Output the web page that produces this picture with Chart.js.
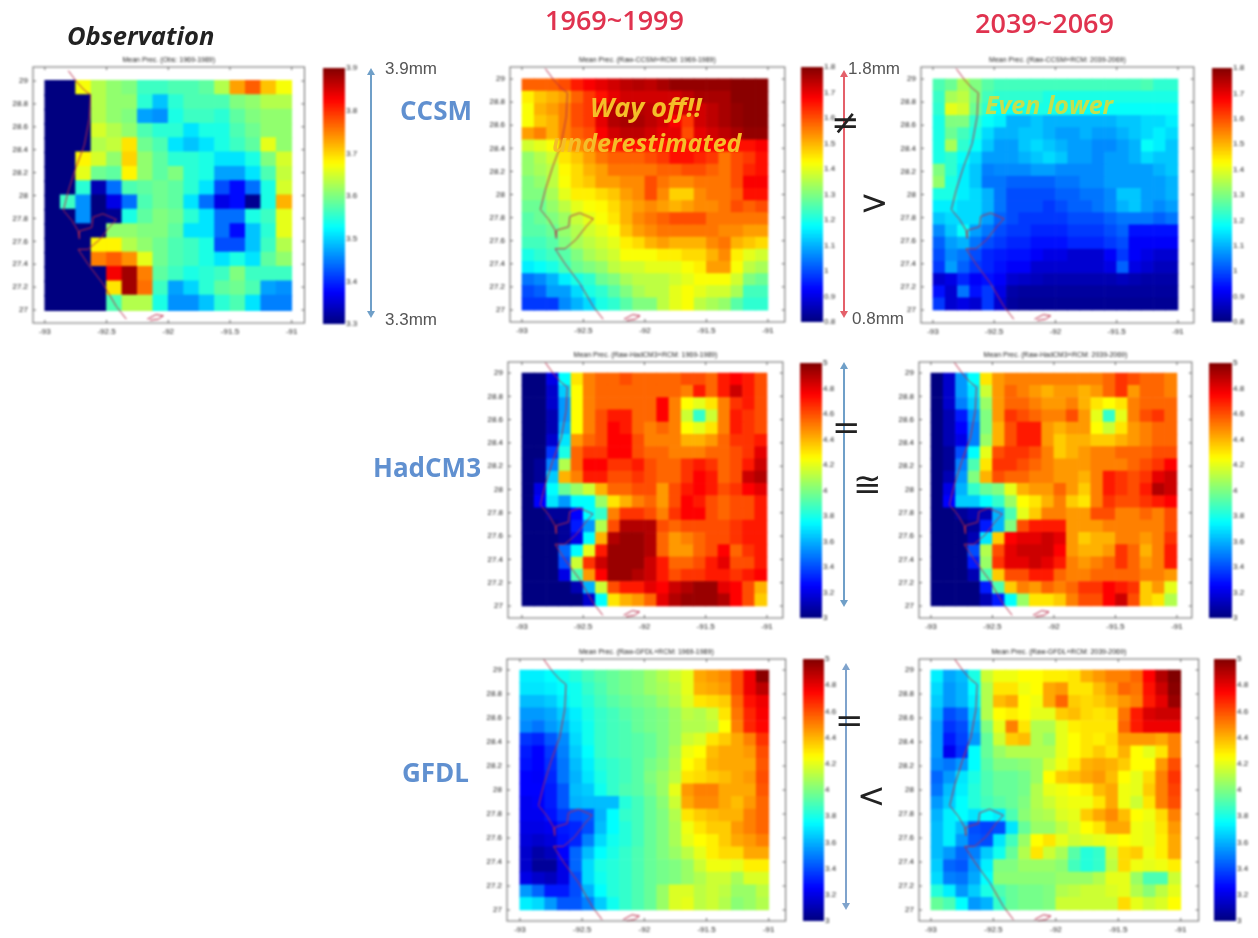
<!DOCTYPE html>
<html>
<head>
<meta charset="utf-8">
<title>Mean precipitation maps</title>
<script src="https://cdn.jsdelivr.net/npm/chart.js@4/dist/chart.umd.min.js"></script>
<style>
html, body { margin: 0; padding: 0; background: #fff; }
#page { position: relative; width: 1258px; height: 938px; overflow: hidden; }
canvas { position: absolute; filter: blur(0.8px); }
svg { position: absolute; left: 0; top: 0; }
.note { position: absolute; white-space: nowrap; font-family: "Open Sans", sans-serif; filter: blur(0.4px); }
.head { font-size: 25.5px; font-weight: 700; font-style: italic; color: #222; }
.period { font-size: 27px; font-weight: 600; color: #e0334f; }
.model { font-size: 26px; font-weight: 700; color: #6090d0; }
.mm { font-size: 17px; color: #555; font-family: "Liberation Sans", sans-serif; }
.sign { font-size: 34px; color: #222; font-family: "DejaVu Sans", sans-serif; }
.remark { font-size: 25px; font-weight: 700; font-style: italic; color: #f5be28; }
.remarkLarge { font-size: 27px; font-weight: 700; font-style: italic; color: #f5be28; }
.remarkPale { font-size: 25px; font-weight: 700; font-style: italic; color: #c4e04e; }
</style>
</head>
<body>
<div id="page"></div>
<script>
// tick labels
var lonTicks = [-93, -92.5, -92, -91.5, -91];
var latTicks = [27, 27.2, 27.4, 27.6, 27.8, 28, 28.2, 28.4, 28.6, 28.8, 29];
var obsBarTicks = [3.3, 3.4, 3.5, 3.6, 3.7, 3.8, 3.9];
var ccsmBarTicks = [0.8, 0.9, 1, 1.1, 1.2, 1.3, 1.4, 1.5, 1.6, 1.7, 1.8];
var modelBarTicks = [3, 3.2, 3.4, 3.6, 3.8, 4, 4.2, 4.4, 4.6, 4.8, 5];

// coastline, lon / lat
var coastLon = [-92.81,-92.74,-92.68,-92.63,-92.64,-92.68,-92.75,-92.81,-92.85,-92.78,-92.73,-92.72,-92.72,-92.62,-92.61,-92.53,-92.42,-92.48,-92.56,-92.65,-92.73,-92.65,-92.53,-92.42,-92.34];
var coastLat = [29.09,28.99,28.92,28.88,28.67,28.44,28.24,28.04,27.87,27.78,27.69,27.62,27.69,27.72,27.81,27.84,27.79,27.72,27.61,27.53,27.53,27.40,27.23,27.03,26.92];
var islandLon = [-92.17,-92.10,-92.04,-92.08,-92.15];
var islandLat = [26.92,26.96,26.95,26.92,26.91];

// mean precipitation, rows run north to south
var obsValues = [
[3.3,3.3,3.67,3.63,3.61,3.6,3.56,3.56,3.57,3.57,3.58,3.63,3.73,3.77,3.71,3.67],
[3.3,3.3,3.3,3.63,3.61,3.61,3.55,3.49,3.55,3.57,3.57,3.57,3.6,3.61,3.63,3.63],
[3.3,3.3,3.3,3.63,3.61,3.6,3.47,3.46,3.54,3.56,3.56,3.55,3.58,3.6,3.61,3.61],
[3.3,3.3,3.3,3.65,3.63,3.61,3.57,3.55,3.55,3.51,3.54,3.54,3.57,3.59,3.61,3.61],
[3.3,3.3,3.3,3.63,3.64,3.69,3.59,3.57,3.51,3.49,3.51,3.54,3.56,3.58,3.66,3.61],
[3.3,3.3,3.68,3.65,3.61,3.7,3.61,3.58,3.55,3.55,3.54,3.51,3.51,3.54,3.6,3.65],
[3.3,3.3,3.66,3.59,3.58,3.68,3.61,3.58,3.6,3.55,3.54,3.47,3.47,3.51,3.57,3.64],
[3.3,3.3,3.55,3.33,3.44,3.57,3.58,3.59,3.58,3.55,3.51,3.42,3.38,3.44,3.54,3.65],
[3.3,3.56,3.46,3.3,3.36,3.44,3.57,3.59,3.58,3.51,3.44,3.36,3.38,3.31,3.54,3.72],
[3.3,3.3,3.46,3.3,3.31,3.54,3.58,3.6,3.59,3.55,3.51,3.44,3.44,3.54,3.56,3.66],
[3.3,3.3,3.3,3.3,3.61,3.61,3.6,3.6,3.58,3.51,3.51,3.44,3.38,3.49,3.55,3.66],
[3.3,3.3,3.3,3.68,3.68,3.63,3.61,3.59,3.57,3.56,3.54,3.42,3.42,3.49,3.56,3.63],
[3.3,3.3,3.3,3.75,3.77,3.74,3.66,3.59,3.57,3.56,3.54,3.51,3.54,3.51,3.58,3.61],
[3.3,3.3,3.3,3.3,3.83,3.88,3.75,3.58,3.56,3.54,3.55,3.56,3.6,3.56,3.56,3.56],
[3.3,3.3,3.3,3.3,3.69,3.88,3.76,3.56,3.47,3.5,3.55,3.58,3.59,3.57,3.47,3.46],
[3.3,3.3,3.3,3.3,3.57,3.63,3.63,3.54,3.46,3.46,3.49,3.55,3.57,3.51,3.45,3.45]
];
var ccsmHist = [
[1.58,1.58,1.58,1.6,1.65,1.68,1.7,1.72,1.74,1.75,1.74,1.76,1.78,1.78,1.78,1.78,1.78,1.79,1.79,1.79],
[1.44,1.48,1.5,1.52,1.58,1.62,1.66,1.7,1.72,1.72,1.72,1.72,1.72,1.74,1.76,1.76,1.76,1.79,1.79,1.79],
[1.42,1.5,1.52,1.55,1.6,1.62,1.72,1.75,1.75,1.75,1.74,1.72,1.72,1.72,1.72,1.74,1.76,1.78,1.79,1.79],
[1.42,1.48,1.5,1.55,1.6,1.62,1.7,1.75,1.76,1.76,1.74,1.72,1.68,1.62,1.72,1.74,1.76,1.78,1.79,1.79],
[1.52,1.55,1.5,1.55,1.58,1.6,1.68,1.72,1.74,1.74,1.72,1.7,1.7,1.6,1.7,1.72,1.74,1.76,1.78,1.78],
[1.38,1.4,1.42,1.48,1.54,1.56,1.6,1.64,1.66,1.66,1.66,1.66,1.66,1.66,1.68,1.68,1.68,1.66,1.66,1.68],
[1.32,1.35,1.38,1.45,1.48,1.52,1.56,1.58,1.58,1.58,1.6,1.62,1.66,1.66,1.64,1.62,1.56,1.6,1.62,1.66],
[1.32,1.34,1.36,1.43,1.46,1.5,1.52,1.56,1.56,1.56,1.56,1.58,1.58,1.6,1.6,1.58,1.56,1.6,1.64,1.66],
[1.3,1.32,1.36,1.42,1.46,1.48,1.52,1.52,1.54,1.54,1.6,1.56,1.54,1.54,1.56,1.56,1.56,1.6,1.68,1.68],
[1.3,1.3,1.34,1.4,1.44,1.44,1.46,1.48,1.52,1.54,1.6,1.54,1.47,1.47,1.54,1.56,1.56,1.58,1.66,1.66],
[1.28,1.28,1.32,1.36,1.4,1.42,1.43,1.46,1.5,1.52,1.54,1.52,1.5,1.52,1.54,1.54,1.56,1.6,1.58,1.6],
[1.26,1.28,1.3,1.33,1.37,1.4,1.42,1.45,1.5,1.54,1.56,1.58,1.6,1.6,1.6,1.56,1.56,1.56,1.56,1.56],
[1.26,1.26,1.28,1.32,1.35,1.38,1.4,1.42,1.48,1.52,1.54,1.56,1.56,1.56,1.56,1.56,1.54,1.54,1.52,1.52],
[1.24,1.24,1.26,1.3,1.34,1.36,1.38,1.4,1.44,1.46,1.5,1.52,1.5,1.5,1.5,1.54,1.56,1.5,1.48,1.46],
[1.2,1.22,1.24,1.26,1.3,1.34,1.36,1.38,1.42,1.42,1.42,1.44,1.44,1.46,1.46,1.5,1.54,1.44,1.4,1.38],
[1.16,1.18,1.2,1.24,1.28,1.3,1.32,1.36,1.38,1.38,1.4,1.4,1.4,1.42,1.44,1.52,1.52,1.42,1.36,1.34],
[1.04,1.06,1.1,1.16,1.2,1.22,1.28,1.3,1.34,1.36,1.36,1.36,1.38,1.4,1.42,1.42,1.42,1.38,1.3,1.28],
[1.0,1.02,1.08,1.08,1.14,1.2,1.22,1.26,1.3,1.34,1.36,1.36,1.4,1.42,1.4,1.38,1.38,1.34,1.24,1.24],
[0.98,0.98,0.98,1.06,1.1,1.14,1.2,1.22,1.26,1.3,1.3,1.36,1.4,1.42,1.36,1.34,1.32,1.26,1.22,1.22]
];
var ccsmFuture = [
[1.25,1.28,1.34,1.3,1.26,1.24,1.24,1.24,1.24,1.24,1.24,1.24,1.24,1.24,1.24,1.24,1.24,1.25,1.22,1.22],
[1.23,1.34,1.36,1.3,1.24,1.22,1.22,1.22,1.22,1.2,1.2,1.2,1.2,1.2,1.2,1.2,1.2,1.2,1.2,1.2],
[1.22,1.4,1.38,1.28,1.22,1.18,1.18,1.2,1.2,1.2,1.2,1.2,1.18,1.18,1.18,1.18,1.18,1.18,1.18,1.18],
[1.2,1.3,1.3,1.22,1.18,1.16,1.1,1.1,1.12,1.1,1.1,1.1,1.1,1.1,1.1,1.12,1.12,1.14,1.14,1.16],
[1.2,1.28,1.24,1.2,1.14,1.1,1.1,1.12,1.12,1.1,1.08,1.08,1.1,1.08,1.08,1.1,1.12,1.14,1.16,1.14],
[1.2,1.34,1.22,1.18,1.12,1.08,1.08,1.12,1.14,1.12,1.1,1.08,1.08,1.06,1.06,1.08,1.1,1.18,1.16,1.12],
[1.2,1.22,1.18,1.14,1.08,1.08,1.08,1.1,1.12,1.14,1.12,1.08,1.08,1.06,1.08,1.08,1.1,1.14,1.12,1.12],
[1.3,1.22,1.16,1.12,1.05,1.06,1.06,1.06,1.08,1.08,1.06,1.06,1.06,1.06,1.08,1.08,1.08,1.08,1.1,1.12],
[1.32,1.2,1.16,1.12,1.04,1.04,1.02,1.02,1.02,1.02,1.04,1.04,1.06,1.06,1.08,1.08,1.08,1.08,1.08,1.1],
[1.2,1.2,1.16,1.14,1.1,1.04,1.0,1.0,1.0,1.0,1.02,1.02,1.04,1.04,1.06,1.12,1.12,1.08,1.08,1.1],
[1.16,1.16,1.14,1.14,1.1,1.04,1.0,1.0,1.0,0.98,1.0,1.02,1.02,1.04,1.06,1.1,1.12,1.08,1.06,1.08],
[1.12,1.14,1.14,1.14,1.08,1.02,1.0,0.98,0.98,0.98,0.98,1.0,1.0,1.0,1.02,1.04,1.04,1.04,1.02,1.04],
[1.06,1.12,1.18,1.08,1.04,1.0,0.98,0.98,0.96,0.96,0.96,0.98,0.98,0.98,1.0,1.02,0.94,0.94,0.94,0.94],
[1.02,1.08,1.1,1.04,1.0,0.98,0.96,0.96,0.94,0.94,0.94,0.96,0.96,0.96,0.98,1.0,0.92,0.92,0.92,0.92],
[1.0,1.06,1.04,1.0,0.96,0.95,0.94,0.94,0.92,0.9,0.9,0.88,0.88,0.88,0.92,0.98,0.92,0.9,0.88,0.88],
[0.98,1.08,1.02,0.98,0.96,0.94,0.92,0.92,0.88,0.88,0.88,0.88,0.88,0.88,0.9,1.02,0.9,0.88,0.86,0.86],
[0.88,0.9,0.96,0.92,0.94,0.92,0.88,0.87,0.86,0.85,0.85,0.85,0.85,0.85,0.85,0.86,0.85,0.84,0.84,0.84],
[0.94,0.88,1.04,0.94,0.98,0.9,0.84,0.83,0.83,0.83,0.83,0.83,0.83,0.83,0.83,0.83,0.83,0.83,0.83,0.83],
[0.98,0.88,0.9,0.88,0.98,0.88,0.83,0.82,0.82,0.82,0.82,0.82,0.82,0.82,0.82,0.82,0.82,0.82,0.82,0.82]
];
var hadHist = [
[3,3,3.2,3.75,4.3,4.5,4.55,4.55,4.6,4.55,4.55,4.55,4.55,4.6,4.6,4.55,4.7,4.75,4.7,4.6],
[3,3,3.15,3.65,4.25,4.5,4.55,4.55,4.55,4.55,4.55,4.55,4.55,4.5,4.7,4.55,4.7,4.85,4.7,4.6],
[3,3,3.15,3.55,4.25,4.5,4.55,4.55,4.55,4.55,4.55,4.75,4.5,4.25,4.2,4.3,4.5,4.65,4.7,4.6],
[3,3,3.1,3.55,4.25,4.5,4.6,4.7,4.7,4.55,4.55,4.75,4.5,4.15,3.85,4.15,4.5,4.7,4.65,4.6],
[3,3,3.1,3.6,4.25,4.5,4.6,4.75,4.7,4.55,4.5,4.55,4.5,4.25,4.2,4.3,4.5,4.7,4.65,4.6],
[3,3,3.15,3.7,4.45,4.55,4.6,4.75,4.75,4.6,4.5,4.5,4.5,4.4,4.4,4.45,4.55,4.65,4.65,4.7],
[3,3,3.35,3.8,4.55,4.65,4.65,4.75,4.75,4.6,4.55,4.55,4.5,4.5,4.5,4.55,4.55,4.6,4.65,4.8],
[3,3.05,3.5,4.1,4.55,4.75,4.75,4.65,4.65,4.7,4.6,4.55,4.55,4.65,4.7,4.65,4.55,4.6,4.7,4.85],
[3,3.05,3.65,4.4,4.5,4.7,4.7,4.6,4.6,4.65,4.6,4.55,4.55,4.65,4.75,4.7,4.55,4.6,4.85,4.9],
[3,3.2,3.75,3.95,4.05,4.15,4.4,4.55,4.55,4.6,4.6,4.45,4.6,4.7,4.75,4.7,4.6,4.65,4.75,4.8],
[3,3.25,3.7,3.55,3.75,3.75,4.05,4.3,4.4,4.5,4.55,4.45,4.6,4.75,4.7,4.6,4.55,4.6,4.6,4.7],
[3,3,3.05,3.05,3.25,3.75,3.85,4.5,4.65,4.65,4.6,4.5,4.65,4.75,4.75,4.6,4.55,4.6,4.6,4.7],
[3,3,3,3.05,3.3,3.55,4.1,4.6,4.9,4.9,4.9,4.6,4.55,4.6,4.6,4.6,4.6,4.65,4.7,4.7],
[3,3,3,3.05,3.2,3.75,4.4,4.9,4.95,4.95,4.9,4.55,4.45,4.5,4.55,4.6,4.6,4.65,4.7,4.7],
[3,3,3,3.45,3.75,4.2,4.7,4.95,4.95,4.95,4.9,4.55,4.45,4.45,4.55,4.6,4.75,4.55,4.65,4.7],
[3,3,3,3.4,4.15,4.65,4.85,4.95,4.95,4.95,4.85,4.7,4.55,4.55,4.6,4.7,4.8,4.6,4.6,4.7],
[3,3,3,3.2,3.9,4.45,4.75,4.95,4.95,4.9,4.85,4.7,4.6,4.65,4.65,4.7,4.7,4.65,4.7,4.75],
[3,3,3,3,3.1,3.6,4.15,4.6,4.7,4.7,4.8,4.75,4.85,4.9,4.95,4.95,4.8,4.75,4.6,4.4],
[3,3,3,3,3,3.15,3.75,4.3,4.4,4.45,4.55,4.8,4.9,4.95,4.95,4.95,4.9,4.75,4.6,4.35]
];
var hadFuture = [
[3,3.15,3.55,3.75,4.3,4.45,4.5,4.5,4.5,4.5,4.5,4.5,4.5,4.5,4.55,4.65,4.6,4.55,4.55,4.5],
[3,3.15,3.55,3.7,4.15,4.45,4.55,4.5,4.45,4.4,4.45,4.45,4.4,4.45,4.55,4.65,4.45,4.55,4.55,4.5],
[3,3.15,3.5,3.65,4.05,4.45,4.55,4.55,4.5,4.45,4.45,4.5,4.4,4.3,4.25,4.3,4.5,4.55,4.55,4.55],
[3,3.1,3.3,3.55,4.0,4.45,4.65,4.6,4.55,4.5,4.5,4.6,4.45,4.2,3.85,4.2,4.5,4.6,4.65,4.55],
[3,3.1,3.25,3.5,4.0,4.4,4.6,4.7,4.7,4.45,4.4,4.45,4.45,4.25,4.15,4.3,4.45,4.5,4.55,4.55],
[3,3.1,3.2,3.5,4.05,4.4,4.6,4.7,4.7,4.45,4.35,4.4,4.4,4.35,4.35,4.4,4.45,4.5,4.55,4.55],
[3,3.05,3.4,3.75,4.2,4.6,4.65,4.65,4.6,4.5,4.35,4.4,4.45,4.5,4.5,4.55,4.55,4.55,4.6,4.6],
[3,3.05,3.5,3.9,4.3,4.65,4.65,4.6,4.55,4.5,4.45,4.45,4.45,4.5,4.5,4.5,4.55,4.6,4.65,4.75],
[3,3.1,3.55,4.0,4.4,4.6,4.55,4.55,4.5,4.5,4.45,4.45,4.4,4.5,4.7,4.65,4.6,4.65,4.8,4.85],
[3,3.2,3.6,3.85,3.95,4.0,4.2,4.4,4.45,4.45,4.55,4.45,4.35,4.5,4.7,4.65,4.6,4.7,4.9,4.85],
[3,3.25,3.65,3.65,3.75,3.85,4.05,4.25,4.3,4.4,4.5,4.35,4.3,4.5,4.65,4.6,4.6,4.65,4.7,4.75],
[3,3,3.05,3.1,3.1,3.6,3.9,4.2,4.35,4.5,4.5,4.45,4.45,4.6,4.6,4.5,4.5,4.55,4.5,4.6],
[3,3,3,3.05,3.3,3.6,4.0,4.6,4.7,4.7,4.7,4.45,4.45,4.45,4.5,4.5,4.5,4.5,4.5,4.6],
[3,3,3,3.1,3.7,4.35,4.75,4.8,4.8,4.85,4.8,4.45,4.35,4.4,4.4,4.5,4.5,4.45,4.5,4.65],
[3,3,3,3.4,4.1,4.6,4.8,4.85,4.85,4.85,4.75,4.45,4.4,4.4,4.45,4.65,4.55,4.4,4.5,4.7],
[3,3,3,3.3,4.05,4.65,4.8,4.8,4.85,4.8,4.7,4.5,4.45,4.5,4.55,4.65,4.55,4.45,4.5,4.7],
[3,3,3,3.1,3.9,4.35,4.6,4.6,4.7,4.7,4.55,4.5,4.5,4.55,4.55,4.55,4.55,4.5,4.5,4.45],
[3,3,3,3,3.3,3.9,4.35,4.5,4.45,4.55,4.5,4.55,4.65,4.65,4.75,4.7,4.65,4.35,4.45,4.2],
[3,3,3,3,3.1,3.3,3.75,4.05,4.3,4.3,4.35,4.5,4.6,4.6,4.75,4.85,4.6,4.35,4.3,4.1]
];
var gfdlHist = [
[3.72,3.72,3.75,3.78,3.82,3.88,3.92,3.95,3.98,4.0,4.05,4.1,4.15,4.2,4.42,4.45,4.48,4.6,4.78,4.98],
[3.7,3.7,3.72,3.75,3.78,3.85,3.9,3.95,3.98,4.0,4.05,4.08,4.12,4.2,4.4,4.42,4.45,4.6,4.78,4.88],
[3.62,3.62,3.65,3.72,3.78,3.82,3.88,3.92,3.95,3.98,4.0,4.05,4.1,4.18,4.3,4.32,4.35,4.55,4.72,4.78],
[3.55,3.55,3.58,3.65,3.72,3.8,3.85,3.88,3.92,3.95,3.98,4.0,4.05,4.12,4.1,4.15,4.3,4.52,4.68,4.76],
[3.52,3.48,3.55,3.6,3.7,3.78,3.85,3.88,3.9,3.95,3.98,4.0,4.05,4.1,4.1,4.12,4.25,4.5,4.68,4.74],
[3.35,3.32,3.42,3.52,3.68,3.78,3.85,3.88,3.9,3.92,3.95,4.0,4.05,4.15,4.18,4.3,4.35,4.42,4.5,4.65],
[3.3,3.25,3.36,3.5,3.65,3.75,3.85,3.88,3.9,3.92,3.95,4.0,4.08,4.22,4.25,4.38,4.42,4.42,4.45,4.6],
[3.28,3.25,3.34,3.48,3.62,3.72,3.82,3.85,3.88,3.92,3.98,4.02,4.1,4.25,4.3,4.4,4.42,4.42,4.42,4.58],
[3.25,3.24,3.32,3.48,3.6,3.7,3.8,3.85,3.88,3.92,4.0,4.05,4.12,4.3,4.32,4.35,4.38,4.42,4.45,4.6],
[3.25,3.25,3.3,3.42,3.62,3.65,3.78,3.85,3.9,3.92,3.98,4.05,4.2,4.45,4.5,4.5,4.42,4.42,4.42,4.58],
[3.22,3.24,3.3,3.42,3.6,3.62,3.62,3.62,3.82,3.88,3.95,4.02,4.15,4.42,4.48,4.48,4.42,4.38,4.45,4.55],
[3.22,3.22,3.28,3.36,3.4,3.42,3.6,3.75,3.85,3.88,3.95,4.0,4.1,4.3,4.35,4.38,4.4,4.4,4.5,4.55],
[3.2,3.2,3.22,3.3,3.32,3.4,3.62,3.75,3.82,3.88,3.95,4.0,4.08,4.22,4.3,4.35,4.35,4.45,4.5,4.55],
[3.18,3.15,3.18,3.28,3.32,3.5,3.68,3.78,3.82,3.88,3.95,4.0,4.08,4.2,4.25,4.28,4.35,4.42,4.45,4.5],
[3.15,3.08,3.12,3.25,3.45,3.62,3.75,3.8,3.85,3.9,3.95,4.0,4.05,4.12,4.2,4.28,4.32,4.32,4.42,4.42],
[3.15,3.05,3.05,3.2,3.45,3.68,3.8,3.82,3.85,3.9,3.95,3.98,4.0,4.05,4.15,4.22,4.22,4.2,4.28,4.28],
[3.2,3.15,3.12,3.2,3.4,3.68,3.78,3.82,3.85,3.9,3.95,3.98,4.0,4.05,4.1,4.15,4.15,4.08,4.18,4.18],
[3.55,3.45,3.3,3.3,3.4,3.6,3.75,3.82,3.85,3.9,3.95,4.05,4.18,4.18,4.12,4.15,4.12,4.05,4.05,4.12],
[3.72,3.68,3.55,3.42,3.42,3.5,3.65,3.78,3.85,3.9,3.95,4.05,4.18,4.2,4.12,4.15,4.1,4.02,4.05,4.1]
];
var gfdlFuture = [
[3.72,3.58,3.62,3.8,4.15,4.22,4.22,4.25,4.25,4.28,4.28,4.3,4.4,4.45,4.5,4.5,4.55,4.75,4.9,5.0],
[3.68,3.55,3.6,3.75,4.1,4.3,4.3,4.22,4.25,4.42,4.45,4.3,4.3,4.38,4.45,4.55,4.52,4.72,4.85,4.98],
[3.65,3.55,3.6,3.72,4.1,4.38,4.42,4.25,4.22,4.42,4.55,4.35,4.32,4.35,4.4,4.45,4.5,4.7,4.8,4.95],
[3.6,3.4,3.45,3.65,4.1,4.25,4.28,4.25,4.2,4.2,4.35,4.38,4.32,4.3,4.32,4.52,4.7,4.82,4.85,4.85],
[3.55,3.35,3.4,3.6,4.0,4.2,4.5,4.3,4.1,4.1,4.2,4.28,4.3,4.3,4.3,4.55,4.7,4.78,4.78,4.78],
[3.55,3.3,3.38,3.55,3.95,4.15,4.35,4.38,4.1,4.05,4.2,4.25,4.3,4.28,4.32,4.45,4.45,4.45,4.42,4.5],
[3.55,3.22,3.35,3.75,3.95,4.05,4.1,4.1,4.1,4.1,4.2,4.25,4.3,4.35,4.3,4.4,4.25,4.2,4.3,4.5],
[3.52,3.48,3.55,3.75,3.92,4.0,4.0,4.02,4.05,4.15,4.22,4.3,4.4,4.42,4.4,4.35,4.25,4.25,4.45,4.6],
[3.45,3.55,3.7,3.8,3.9,3.95,3.95,3.98,4.05,4.25,4.35,4.38,4.42,4.45,4.38,4.25,4.2,4.32,4.5,4.65],
[3.48,3.62,3.72,3.82,3.9,3.95,3.95,3.98,4.1,4.2,4.22,4.25,4.28,4.38,4.42,4.22,4.2,4.35,4.5,4.62],
[3.55,3.65,3.75,3.82,3.88,3.92,3.95,4.0,4.1,4.15,4.2,4.22,4.22,4.3,4.42,4.22,4.15,4.3,4.5,4.6],
[3.6,3.72,3.75,3.7,3.75,3.72,3.9,4.02,4.08,4.1,4.18,4.2,4.35,4.42,4.48,4.38,4.25,4.22,4.32,4.5],
[3.62,3.72,3.62,3.4,3.38,3.4,3.7,3.95,4.05,4.05,4.12,4.18,4.25,4.3,4.42,4.42,4.22,4.2,4.3,4.45],
[3.62,3.72,3.55,3.42,3.4,3.7,3.88,4.05,4.25,4.3,4.2,4.15,4.18,4.2,4.22,4.25,4.22,4.2,4.28,4.42],
[3.62,3.55,3.45,3.5,3.65,3.78,3.95,4.1,4.3,4.15,4.08,3.92,3.82,3.85,4.15,4.32,4.35,4.22,4.28,4.42],
[3.65,3.45,3.42,3.55,3.72,4.0,4.0,4.05,4.05,4.05,4.02,3.88,3.82,3.85,4.12,4.32,4.22,4.2,4.22,4.28],
[3.68,3.5,3.48,3.58,3.75,4.02,4.02,4.02,4.02,4.02,4.05,4.05,4.05,4.1,4.2,4.2,4.05,3.9,3.9,4.15],
[3.82,3.72,3.55,3.65,3.8,3.9,3.95,3.98,3.98,4.0,4.1,4.12,4.15,4.15,4.18,4.2,4.1,4.02,4.12,4.2],
[3.95,3.9,3.75,3.55,3.6,3.85,3.95,3.98,3.98,4.0,4.15,4.15,4.15,4.15,4.15,4.32,4.2,4.15,4.18,4.25]
];

// layout of the seven panels: box = axes frame, bar = colorbar, all in page pixels
var panels = [
    { title: 'Mean Prec. (Obs: 1969-1989)', values: obsValues, range: [3.3, 3.9], barTicks: obsBarTicks,
      box: [33, 67, 275, 256], lonEnds: [45, 295], latEnds: [81, 310], bar: [323, 68, 22, 256] },
    { title: 'Mean Prec. (Raw-CCSM+RCM: 1969-1989)', values: ccsmHist, range: [0.8, 1.8], barTicks: ccsmBarTicks,
      box: [510, 67, 276, 255], lonEnds: [522, 769], latEnds: [79, 310], bar: [801, 67, 22, 255] },
    { title: 'Mean Prec. (Raw-CCSM+RCM: 2039-2069)', values: ccsmFuture, range: [0.8, 1.8], barTicks: ccsmBarTicks,
      box: [921, 67, 274, 256], lonEnds: [933, 1179], latEnds: [79, 310], bar: [1212, 68, 20, 254] },
    { title: 'Mean Prec. (Raw-HadCM3+RCM: 1969-1989)', values: hadHist, range: [3, 5], barTicks: modelBarTicks,
      box: [508, 362, 276, 256], lonEnds: [522, 768], latEnds: [373, 606], bar: [800, 363, 22, 255] },
    { title: 'Mean Prec. (Raw-HadCM3+RCM: 2039-2069)', values: hadFuture, range: [3, 5], barTicks: modelBarTicks,
      box: [919, 362, 274, 256], lonEnds: [931, 1178], latEnds: [373, 606], bar: [1209, 363, 23, 255] },
    { title: 'Mean Prec. (Raw-GFDL+RCM: 1969-1989)', values: gfdlHist, range: [3, 5], barTicks: modelBarTicks,
      box: [507, 659, 280, 262], lonEnds: [520, 770], latEnds: [670, 910], bar: [803, 659, 21, 262] },
    { title: 'Mean Prec. (Raw-GFDL+RCM: 2039-2069)', values: gfdlFuture, range: [3, 5], barTicks: modelBarTicks,
      box: [919, 659, 281, 262], lonEnds: [931, 1182], latEnds: [670, 910], bar: [1214, 659, 22, 262] }
];

var notes = [
    ['head', 'Observation', 67, 18],
    ['period', '1969~1999', 545, 1],
    ['period', '2039~2069', 975, 4],
    ['model', 'CCSM', 400, 92],
    ['model', 'HadCM3', 373, 449],
    ['model', 'GFDL', 402, 754],
    ['mm', '3.9mm', 385, 59],
    ['mm', '3.3mm', 385, 310],
    ['mm', '1.8mm', 848, 59],
    ['mm', '0.8mm', 852, 309],
    ['remarkLarge', 'Way off!!', 590, 88],
    ['remark', 'underestimated', 552, 125],
    ['remarkPale', 'Even lower', 985, 87],
    ['sign', '\u2260', 831, 102],
    ['sign', '>', 860, 182],
    ['sign', '=', 832, 407],
    ['sign', '\u2245', 853, 464],
    ['sign', '=', 835, 700],
    ['sign', '<', 857, 775]
];

// double headed arrows: x, top, bottom, colour
var arrows = [
    [371, 68, 318, '#6f9fc8'],
    [844, 70, 318, '#e4606a'],
    [844, 362, 607, '#6f9fc8'],
    [846, 663, 910, '#7fa3cc']
];

var page = document.getElementById('page');
Chart.defaults.font.family = '"Liberation Sans", Arial, sans-serif';
Chart.defaults.animation = false;

// MATLAB jet
function jet(f) {
    function clamp(v) { return Math.round(Math.max(0, Math.min(1, v)) * 255); }
    var r = clamp(Math.min(4 * f - 1.5, -4 * f + 4.5));
    var g = clamp(Math.min(4 * f - 0.5, -4 * f + 3.5));
    var b = clamp(Math.min(4 * f + 0.5, -4 * f + 2.5));
    return 'rgb(' + r + ',' + g + ',' + b + ')';
}

function addCanvas(left, top, width, height) {
    var c = document.createElement('canvas');
    c.width = width;
    c.height = height;
    c.style.left = left + 'px';
    c.style.top = top + 'px';
    c.style.width = width + 'px';
    c.style.height = height + 'px';
    page.appendChild(c);
    return c;
}

// frame with small inward ticks on all four sides
var framePlugin = {
    id: 'frame',
    afterDatasetsDraw: function (chart) {
        var a = chart.chartArea, ctx = chart.ctx;
        ctx.save();
        ctx.strokeStyle = '#666';
        ctx.lineWidth = 1;
        ctx.strokeRect(a.left, a.top, a.width, a.height);
        ctx.beginPath();
        lonTicks.forEach(function (v) {
            var x = chart.scales.x.getPixelForValue(v);
            ctx.moveTo(x, a.top); ctx.lineTo(x, a.top + 3);
            ctx.moveTo(x, a.bottom); ctx.lineTo(x, a.bottom - 3);
        });
        latTicks.forEach(function (v) {
            var y = chart.scales.y.getPixelForValue(v);
            ctx.moveTo(a.left, y); ctx.lineTo(a.left + 3, y);
            ctx.moveTo(a.right, y); ctx.lineTo(a.right - 3, y);
        });
        ctx.stroke();
        ctx.restore();
    }
};

function zipLine(lons, lats) {
    return lons.map(function (lon, i) { return { x: lon, y: lats[i] }; });
}

function drawPanel(p) {
    var box = p.box;
    var marginLeft = 28, marginTop = 14, marginRight = 8, marginBottom = 18;
    var canvas = addCanvas(box[0] - marginLeft, box[1] - marginTop,
        box[2] + marginLeft + marginRight, box[3] + marginTop + marginBottom);

    // axis limits so that the -93..-91 and 27..29 ticks land where the picture has them
    var perLon = (p.lonEnds[1] - p.lonEnds[0]) / 2;
    var perLat = (p.latEnds[1] - p.latEnds[0]) / 2;
    var xMin = -93 - (p.lonEnds[0] - box[0]) / perLon;
    var xMax = -91 + (box[0] + box[2] - p.lonEnds[1]) / perLon;
    var yMax = 29 + (p.latEnds[0] - box[1]) / perLat;
    var yMin = 27 - (box[1] + box[3] - p.latEnds[1]) / perLat;

    var rows = p.values.length, cols = p.values[0].length;
    var cells = [];
    p.values.forEach(function (row, j) {
        row.forEach(function (v, i) {
            cells.push({ x: -93 + (i + 0.5) * 2 / cols, y: 29 - (j + 0.5) * 2 / rows, v: v });
        });
    });
    var side = Math.max(perLon * 2 / cols, perLat * 2 / rows) + 0.6;

    new Chart(canvas, {
        type: 'scatter',
        data: {
            datasets: [
                { data: zipLine(coastLon, coastLat), showLine: true, borderColor: '#b82a48', borderWidth: 1, pointRadius: 0 },
                { data: zipLine(islandLon, islandLat), showLine: true, borderColor: '#b82a48', borderWidth: 1, pointRadius: 0 },
                {
                    data: cells,
                    pointStyle: 'rect',
                    pointRadius: side / Math.SQRT2,
                    borderWidth: 0,
                    pointBorderWidth: 0,
                    pointBackgroundColor: function (ctx) {
                        var v = ctx.raw ? ctx.raw.v : p.range[0];
                        return jet((v - p.range[0]) / (p.range[1] - p.range[0]));
                    }
                }
            ]
        },
        options: {
            responsive: false,
            events: [],
            layout: { padding: { right: marginRight } },
            plugins: {
                legend: { display: false },
                tooltip: { enabled: false },
                title: {
                    display: true,
                    text: p.title,
                    fullSize: false,
                    color: '#222',
                    font: { size: 7, weight: 'normal' },
                    padding: { top: 2.6, bottom: 3 }
                }
            },
            scales: {
                x: {
                    type: 'linear',
                    min: xMin,
                    max: xMax,
                    grid: { display: false, drawTicks: false },
                    border: { display: false },
                    afterBuildTicks: function (s) { s.ticks = lonTicks.map(function (v) { return { value: v }; }); },
                    afterFit: function (s) { s.height = marginBottom; },
                    ticks: { font: { size: 8 }, color: '#222', maxRotation: 0, autoSkip: false, padding: 4,
                        callback: function (v) { return String(v); } }
                },
                y: {
                    type: 'linear',
                    min: yMin,
                    max: yMax,
                    grid: { display: false, drawTicks: false },
                    border: { display: false },
                    afterBuildTicks: function (s) { s.ticks = latTicks.map(function (v) { return { value: v }; }); },
                    afterFit: function (s) { s.width = marginLeft; },
                    ticks: { font: { size: 8 }, color: '#222', autoSkip: false, padding: 5,
                        callback: function (v) { return String(v); } }
                }
            }
        },
        plugins: [framePlugin]
    });

    drawColorbar(p);
}

function drawColorbar(p) {
    var bar = p.bar, pad = 6, labelWidth = 22;
    var canvas = addCanvas(bar[0], bar[1] - pad, bar[2] + labelWidth, bar[3] + pad * 2);
    var lo = p.range[0], hi = p.range[1], levels = 64, step = (hi - lo) / levels;
    var sets = [];
    for (var i = 0; i < levels; i++) {
        sets.push({
            data: [[Math.max(lo, lo + (i - 0.5) * step), lo + (i + 1) * step]],
            backgroundColor: jet((i + 0.5) / levels),
            barPercentage: 1,
            categoryPercentage: 1,
            grouped: false
        });
    }
    new Chart(canvas, {
        type: 'bar',
        data: { labels: ['level'], datasets: sets },
        options: {
            responsive: false,
            events: [],
            layout: { padding: { top: pad, bottom: pad } },
            plugins: { legend: { display: false }, tooltip: { enabled: false } },
            scales: {
                x: { display: false },
                y: {
                    position: 'right',
                    min: lo,
                    max: hi,
                    grid: { display: false, drawTicks: false },
                    border: { display: false },
                    afterBuildTicks: function (s) { s.ticks = p.barTicks.map(function (v) { return { value: v }; }); },
                    afterFit: function (s) { s.width = labelWidth; },
                    ticks: { font: { size: 8 }, color: '#222', autoSkip: false, padding: 1,
                        callback: function (v) { return String(v); } }
                }
            }
        }
    });
}

panels.forEach(drawPanel);

// overlay arrows and notes from the slide
var svgNS = 'http://www.w3.org/2000/svg';
var svg = document.createElementNS(svgNS, 'svg');
svg.setAttribute('width', 1258);
svg.setAttribute('height', 938);
arrows.forEach(function (a) {
    var x = a[0], top = a[1], bottom = a[2];
    var line = document.createElementNS(svgNS, 'line');
    line.setAttribute('x1', x); line.setAttribute('x2', x);
    line.setAttribute('y1', top + 4); line.setAttribute('y2', bottom - 4);
    line.setAttribute('stroke', a[3]);
    line.setAttribute('stroke-width', 2);
    svg.appendChild(line);
    [[top, 7], [bottom, -7]].forEach(function (h) {
        var tri = document.createElementNS(svgNS, 'polygon');
        tri.setAttribute('points', x + ',' + h[0] + ' ' + (x - 4) + ',' + (h[0] + h[1]) + ' ' + (x + 4) + ',' + (h[0] + h[1]));
        tri.setAttribute('fill', a[3]);
        svg.appendChild(tri);
    });
});
page.appendChild(svg);

notes.forEach(function (n) {
    var d = document.createElement('div');
    d.className = 'note ' + n[0];
    d.textContent = n[1];
    d.style.left = n[2] + 'px';
    d.style.top = n[3] + 'px';
    page.appendChild(d);
});
</script>
</body>
</html>
